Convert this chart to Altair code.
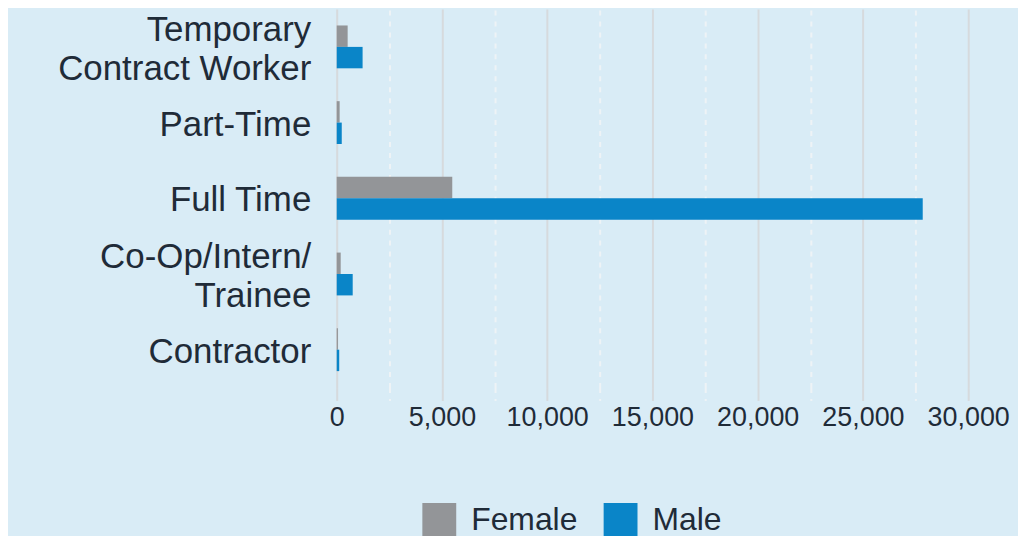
import altair as alt
import pandas as pd

categories = ["Temporary|Contract Worker", "Part-Time", "Full Time", "Co-Op/Intern/|Trainee", "Contractor"]
female = [520, 140, 5490, 190, 60]
male = [1230, 240, 27840, 760, 120]
genders = ["Female", "Male"]
colors = ["#939598", "#0a85c8"]
x_ticks = list(range(0, 30001, 2500))

rows = []
for c, f, m in zip(categories, female, male):
    rows.append({"category": c, "gender": "Female", "value": f})
    rows.append({"category": c, "gender": "Male", "value": m})
df = pd.DataFrame(rows)

TEXT = "#1f2b38"
FONT = "Liberation Sans"

chart = alt.Chart(df).mark_bar().encode(
    y=alt.Y("category:N", sort=categories, title=None,
            scale=alt.Scale(paddingInner=0.434, paddingOuter=0.217),
            axis=alt.Axis(labelExpr="split(datum.label, '|')", labelFontSize=35,
                          labelLineHeight=39, labelColor=TEXT, labelFont=FONT,
                          labelOffset={"condition": {"test": "indexof(datum.label, '|') >= 0", "value": -17}, "value": 2},
                          ticks=False, domain=False, labelPadding=26, grid=False,
                          labelLimit=400)),
    yOffset=alt.YOffset("gender:N", sort=genders, scale=alt.Scale(paddingInner=0, paddingOuter=0)),
    x=alt.X("value:Q", title=None, scale=alt.Scale(domain=[0, 30000], nice=False),
            axis=alt.Axis(values=x_ticks,
                          labelExpr="datum.value % 5000 == 0 ? format(datum.value, ',') : ''",
                          labelFontSize=27, labelColor=TEXT, labelFont=FONT,
                          labelPadding=4, domain=False,
                          gridWidth=2, tickWidth=2, tickSize=13,
                          gridColor={"condition": {"test": "datum.value % 5000 != 0", "value": "#eef3f6"}, "value": "#d6dadd"},
                          gridDash={"condition": {"test": "datum.value % 5000 != 0", "value": [5, 6]}, "value": []},
                          tickColor={"condition": {"test": "datum.value % 5000 != 0", "value": "#eef3f6"}, "value": "#d6dadd"},
                          tickDash={"condition": {"test": "datum.value % 5000 != 0", "value": [5, 6]}, "value": []},
                          labelFlush=False, labelOverlap=False)),
    color=alt.Color("gender:N", sort=genders,
                    scale=alt.Scale(domain=genders, range=colors),
                    legend=alt.Legend(title=None, orient="none", legendX=86, legendY=496,
                                      direction="horizontal", symbolType="square",
                                      symbolSize=1156, symbolStrokeWidth=0,
                                      labelFontSize=32, labelFont=FONT, labelColor=TEXT,
                                      labelOffset=15, columnPadding=26)),
).properties(
    width=634, height=380,
    autosize=alt.AutoSizeParams(type="none"),
    padding={"left": 330, "top": 0, "right": 50, "bottom": 148},
    background="#d9ecf6",
).configure_view(stroke=None)

chart.save("out.html", embed_options={"renderer": "svg", "actions": False})
